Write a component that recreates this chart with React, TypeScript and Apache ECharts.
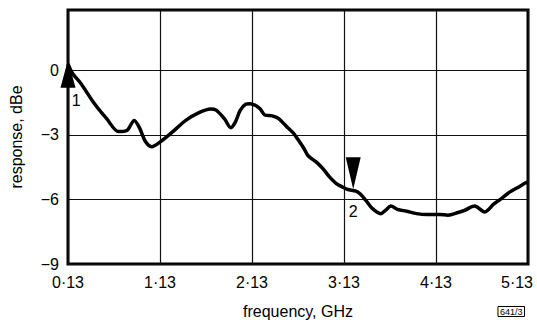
import React, { useEffect, useRef } from "react";
import * as echarts from "echarts";

// frequency in GHz, response in dBe
const freqGHz = [
  0.13, 0.18, 0.27, 0.41, 0.55, 0.68, 0.77, 0.85, 0.91, 0.97, 1.04, 1.14,
  1.27, 1.41, 1.56, 1.68, 1.74, 1.83, 1.9, 1.95, 2.0, 2.06, 2.11, 2.17, 2.22,
  2.27, 2.35, 2.42, 2.51, 2.58, 2.63, 2.69, 2.74, 2.83, 2.9, 2.97, 3.04, 3.12,
  3.17, 3.26, 3.31, 3.37, 3.44, 3.53, 3.58, 3.64, 3.71, 3.81, 3.92, 4.03,
  4.17, 4.26, 4.37, 4.44, 4.55, 4.66, 4.76, 4.84, 4.93, 5.03, 5.1, 5.13,
];
const responseDb = [
  0.3, -0.15, -0.61, -1.51, -2.25, -2.85, -2.8, -2.33, -2.7, -3.3, -3.55, -3.3,
  -2.85, -2.33, -1.96, -1.8, -1.85, -2.25, -2.67, -2.4, -1.88, -1.58, -1.55,
  -1.64, -1.8, -2.08, -2.12, -2.25, -2.63, -2.92, -3.22, -3.6, -3.97, -4.27,
  -4.57, -4.94, -5.24, -5.44, -5.54, -5.61, -5.76, -6.06, -6.43, -6.66, -6.51,
  -6.31, -6.46, -6.55, -6.66, -6.7, -6.7, -6.73, -6.61, -6.51, -6.31, -6.58,
  -6.21, -5.96, -5.66, -5.42, -5.24, -5.18,
];
const xTickLabels = ["0·13", "1·13", "2·13", "3·13", "4·13", "5·13"];
const yTickValues = [-9, -6, -3, 0];

const markerFreqs = [0.13, 3.23];
const markerDb = [0.49, -5.53];
const markerNames = ["1", "2"];
const markerLabelFreqs = [0.22, 3.23];
const markerLabelDb = [-1.4, -6.58];

const F0 = 0.13;
const FONT = "Liberation Sans";

export default function App() {
  const ref = useRef<HTMLDivElement>(null);
  useEffect(() => {
    if (!ref.current) return;
    const chart = echarts.init(ref.current, null, { renderer: "svg" });
    const data = freqGHz.map((f, i) => [+(f - F0).toFixed(3), responseDb[i]]);
    chart.setOption({
      animation: false,
      backgroundColor: "#fff",
      grid: {
        left: 64,
        right: 9,
        top: 10,
        bottom: 50,
        show: true,
        borderColor: "#000",
        borderWidth: 3,
      },
      xAxis: {
        type: "value",
        min: 0,
        max: 5,
        interval: 1,
        name: "frequency, GHz",
        nameLocation: "middle",
        nameGap: 39,
        nameTextStyle: { fontFamily: FONT, fontSize: 16, color: "#000" },
        axisLine: { show: false },
        axisTick: { show: false },
        splitLine: { show: true, lineStyle: { color: "#111", width: 1.2 } },
        axisLabel: {
          margin: 10,
          fontFamily: FONT,
          fontSize: 16,
          color: "#000",
          formatter: (v: number) => {
            const s = xTickLabels[Math.round(v)] ?? "";
            return Math.round(v) === 5 ? `{m|${s}}` : s;
          },
          rich: {
            m: { fontFamily: FONT, fontSize: 16, color: "#000", padding: [0, 22, 0, 0] },
          },
        },
      },
      yAxis: {
        type: "value",
        min: -9,
        max: 2.8,
        interval: 3,
        name: "response, dBe",
        nameLocation: "middle",
        nameGap: 44,
        nameRotate: 90,
        nameTextStyle: { fontFamily: FONT, fontSize: 16, color: "#000" },
        axisLine: { show: false },
        axisTick: { show: false },
        splitLine: { show: true, lineStyle: { color: "#111", width: 1.2 } },
        axisLabel: {
          margin: 9,
          fontFamily: FONT,
          fontSize: 16,
          color: "#000",
          formatter: (v: number) =>
            yTickValues.includes(v) ? (v < 0 ? "\u2212" + Math.abs(v) : String(v)) : "",
        },
      },
      graphic: [
        {
          type: "text",
          right: 12,
          bottom: 7,
          style: {
            text: "641/3",
            fontFamily: FONT,
            fontSize: 9,
            fill: "#000",
            borderColor: "#000",
            borderWidth: 1,
            padding: [1, 2, 0, 2],
          },
        },
      ],
      series: [
        {
          type: "line",
          data,
          showSymbol: false,
          smooth: 0.3,
          lineStyle: { color: "#000", width: 3.5 },
          markPoint: {
            silent: true,
            data: [
              {
                coord: [markerFreqs[0] - F0, markerDb[0]],
                symbol: "triangle",
                symbolSize: [15, 28],
                symbolOffset: [0, 14],
                itemStyle: { color: "#000" },
                label: { show: false },
              },
              {
                coord: [markerFreqs[1] - F0, markerDb[1]],
                symbol: "triangle",
                symbolSize: [15, 32],
                symbolRotate: 180,
                symbolOffset: [0, -16],
                itemStyle: { color: "#000" },
                label: { show: false },
              },
              ...markerNames.map((n, i) => ({
                coord: [markerLabelFreqs[i] - F0, markerLabelDb[i]],
                symbol: "circle",
                symbolSize: 0,
                itemStyle: { color: "transparent" },
                label: {
                  show: true,
                  position: "inside",
                  formatter: n,
                  fontFamily: FONT,
                  fontSize: 16,
                  color: "#000",
                },
              })),
            ],
          },
        },
      ],
    });
    return () => chart.dispose();
  }, []);
  return (
    <div
      ref={ref}
      style={{ position: "fixed", left: 0, top: 0, width: 537, height: 324 }}
    />
  );
}
